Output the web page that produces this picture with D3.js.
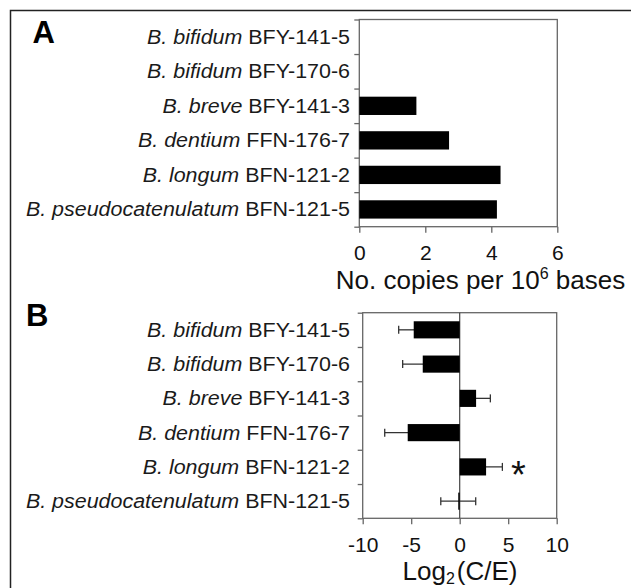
<!DOCTYPE html>
<html>
<head>
<meta charset="utf-8">
<script src="https://cdn.jsdelivr.net/npm/d3@7"></script>
<style>
  body { margin: 0; background: #fff; }
  svg { display: block; font-family: "Liberation Sans", Arial, sans-serif; }
</style>
</head>
<body>
<div id="chart"></div>
<script>
// strains, top to bottom
const species = ["B. bifidum", "B. bifidum", "B. breve", "B. dentium", "B. longum", "B. pseudocatenulatum"];
const strainIds = ["BFY-141-5", "BFY-170-6", "BFY-141-3", "FFN-176-7", "BFN-121-2", "BFN-121-5"];

// panel A: copies per 10^6 bases
const copies = [0, 0, 1.73, 2.72, 4.28, 4.17];
const ticksA = [0, 2, 4, 6];

// panel B: log2(C/E) with error
const log2Ratio = [-4.74, -3.81, 1.69, -5.36, 2.72, -0.15];
const log2Err = [1.55, 2.07, 1.47, 2.37, 1.68, 1.8];
const signif = ["", "", "", "", "*", ""];
const ticksB = [-10, -5, 0, 5, 10];

const width = 631, height = 588;
const rows = d3.range(species.length);

const svg = d3.select('#chart').append('svg')
  .attr('width', width)
  .attr('height', height);

// outer frame (cropped on right / bottom)
svg.append('rect')
  .attr('x', 10.5).attr('y', 10.5)
  .attr('width', 700).attr('height', 700)
  .attr('fill', 'none')
  .attr('stroke', '#222')
  .attr('stroke-width', 1.5);

const panel = (opt) => {
  const x = d3.scaleLinear().domain(opt.domain).range([opt.left, opt.right]);
  const y = d3.scaleBand().domain(rows).range([opt.top, opt.bottom]);
  const yEdge = d3.scaleLinear().domain([0, rows.length]).range([opt.top, opt.bottom]);
  const g = svg.append('g');

  // bottom axis
  g.append('g')
    .attr('transform', `translate(0,${opt.bottom})`)
    .call(d3.axisBottom(x).tickValues(opt.ticks).tickSize(6).tickPadding(12.5)
      .tickFormat(d => String(d)))
    .call(a => a.select('.domain').remove())
    .call(a => a.selectAll('.tick line').attr('stroke', '#666').attr('stroke-width', 1.3))
    .call(a => a.selectAll('.tick text')
      .attr('font-size', 21).attr('fill', '#111')
      .attr('font-family', '"Liberation Sans", Arial, sans-serif'));

  // row boundary ticks
  g.append('g')
    .attr('transform', `translate(${opt.left},0)`)
    .call(d3.axisLeft(yEdge).tickValues(d3.range(rows.length + 1)).tickSize(5).tickFormat(''))
    .call(a => a.select('.domain').remove())
    .call(a => a.selectAll('.tick line').attr('stroke', '#666').attr('stroke-width', 1.3));

  g.append('rect')
    .attr('x', opt.left).attr('y', opt.top)
    .attr('width', opt.right - opt.left).attr('height', opt.bottom - opt.top)
    .attr('fill', 'none')
    .attr('stroke', '#666')
    .attr('stroke-width', 1.3);

  // row labels
  const lab = g.append('g').selectAll('text')
    .data(rows)
    .join('text')
    .attr('transform', i => `translate(350,${y(i) + y.bandwidth() / 2 + 7}) scale(1.1,1)`)
    .attr('text-anchor', 'end')
    .attr('font-size', 19.5)
    .attr('fill', '#1a1a1a');
  lab.append('tspan').attr('font-style', 'italic').text(i => species[i]);
  lab.append('tspan').text(i => ' ' + strainIds[i]);

  return {g, x, y};
};

// ---- panel A
const A = panel({left: 359.3, right: 557.3, top: 19.5, bottom: 226.7, domain: [0, 6], ticks: ticksA});
const bhA = A.y.bandwidth() * 0.53;

A.g.append('g').selectAll('rect')
  .data(rows.filter(i => copies[i] > 0))
  .join('rect')
  .attr('x', A.x(0))
  .attr('y', i => A.y(i) + A.y.bandwidth() / 2 - bhA / 2)
  .attr('width', i => A.x(copies[i]) - A.x(0))
  .attr('height', bhA)
  .attr('fill', '#000');

const titleA = svg.append('text')
  .attr('x', 480.5).attr('y', 288.5)
  .attr('text-anchor', 'middle')
  .attr('font-size', 26)
  .attr('fill', '#111');
titleA.append('tspan').text('No. copies per 10');
titleA.append('tspan').attr('font-size', 16).attr('dy', -10).text('6');
titleA.append('tspan').attr('dy', 10).text(' bases');

// ---- panel B
const B = panel({left: 362.7, right: 556.7, top: 312.7, bottom: 518.3, domain: [-10, 10], ticks: ticksB});
const bhB = B.y.bandwidth() * 0.5;

B.g.append('line')
  .attr('x1', B.x(0)).attr('x2', B.x(0))
  .attr('y1', 312.7).attr('y2', 518.3)
  .attr('stroke', '#444')
  .attr('stroke-width', 1.2);

const err = B.g.append('g')
  .attr('stroke', '#333')
  .attr('stroke-width', 1.3)
  .selectAll('g')
  .data(rows)
  .join('g')
  .attr('transform', i => `translate(0,${B.y(i) + B.y.bandwidth() / 2})`);
err.append('line')
  .attr('x1', i => B.x(log2Ratio[i] - log2Err[i]))
  .attr('x2', i => B.x(log2Ratio[i] + log2Err[i]));
[-1, 1].forEach(s => {
  err.append('line')
    .attr('x1', i => B.x(log2Ratio[i] + s * log2Err[i]))
    .attr('x2', i => B.x(log2Ratio[i] + s * log2Err[i]))
    .attr('y1', -4).attr('y2', 4);
});

B.g.append('g').selectAll('rect')
  .data(rows)
  .join('rect')
  .attr('x', i => B.x(Math.min(0, log2Ratio[i])))
  .attr('y', i => B.y(i) + B.y.bandwidth() / 2 - bhB / 2)
  .attr('width', i => Math.abs(B.x(log2Ratio[i]) - B.x(0)))
  .attr('height', bhB)
  .attr('fill', '#000');

// significance mark
B.g.append('g').selectAll('text')
  .data(rows.filter(i => signif[i]))
  .join('text')
  .attr('x', i => B.x(log2Ratio[i] + log2Err[i]) + 16)
  .attr('y', i => B.y(i) + B.y.bandwidth() / 2 + 21)
  .attr('text-anchor', 'middle')
  .attr('font-size', 38)
  .attr('fill', '#111')
  .text(i => signif[i]);

const titleB = svg.append('text')
  .attr('x', 460).attr('y', 580)
  .attr('text-anchor', 'middle')
  .attr('font-size', 26)
  .attr('fill', '#111');
titleB.append('tspan').text('Log');
titleB.append('tspan').attr('font-size', 16).attr('dy', 4).text('2');
titleB.append('tspan').attr('dy', -4).attr('dx', 2).text('(C/E)');

// panel letters
svg.append('text').attr('x', 32.5).attr('y', 43).attr('font-size', 31).attr('font-weight', 'bold').text('A');
svg.append('text').attr('x', 26).attr('y', 326).attr('font-size', 31).attr('font-weight', 'bold').text('B');
</script>
</body>
</html>
